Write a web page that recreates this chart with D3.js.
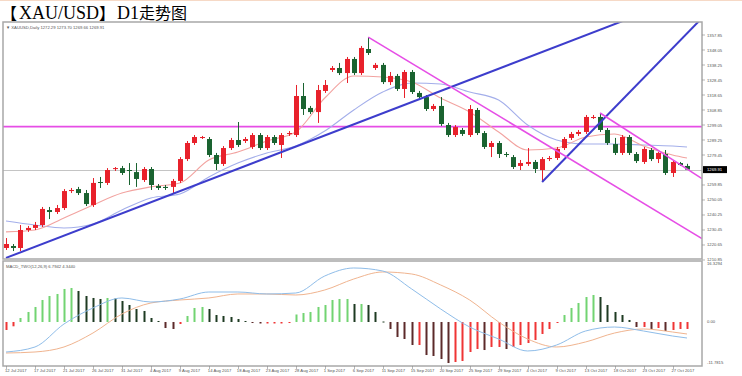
<!DOCTYPE html>
<html>
<head>
<meta charset="utf-8">
<title>XAU/USD D1</title>
<script src="https://cdnjs.cloudflare.com/ajax/libs/d3/7.8.5/d3.min.js"></script>
<style>
    body { margin: 0; background: #fff; }
    svg { display: block; }
    .tiny { font-family: "Liberation Sans", Arial, sans-serif; font-size: 4.2px; fill: #555; }
</style>
</head>
<body>
<div id="chart"></div>
<script>
// daily bars, broker shows sunday bars too
const dates = [
    "2017-07-12", "2017-07-13", "2017-07-14", "2017-07-16", "2017-07-17", "2017-07-18", "2017-07-19", "2017-07-20",
    "2017-07-21", "2017-07-23", "2017-07-24", "2017-07-25", "2017-07-26", "2017-07-27", "2017-07-28", "2017-07-30",
    "2017-07-31", "2017-08-01", "2017-08-02", "2017-08-03", "2017-08-04", "2017-08-06", "2017-08-07", "2017-08-08",
    "2017-08-09", "2017-08-10", "2017-08-11", "2017-08-13", "2017-08-14", "2017-08-15", "2017-08-16", "2017-08-17",
    "2017-08-18", "2017-08-20", "2017-08-21", "2017-08-22", "2017-08-23", "2017-08-24", "2017-08-25", "2017-08-27",
    "2017-08-28", "2017-08-29", "2017-08-30", "2017-08-31", "2017-09-01", "2017-09-03", "2017-09-04", "2017-09-05",
    "2017-09-06", "2017-09-07", "2017-09-08", "2017-09-10", "2017-09-11", "2017-09-12", "2017-09-13", "2017-09-14",
    "2017-09-15", "2017-09-17", "2017-09-18", "2017-09-19", "2017-09-20", "2017-09-21", "2017-09-22", "2017-09-24",
    "2017-09-25", "2017-09-26", "2017-09-27", "2017-09-28", "2017-09-29", "2017-10-01", "2017-10-02", "2017-10-03",
    "2017-10-04", "2017-10-05", "2017-10-06", "2017-10-08", "2017-10-09", "2017-10-10", "2017-10-11", "2017-10-12",
    "2017-10-13", "2017-10-15", "2017-10-16", "2017-10-17", "2017-10-18", "2017-10-19", "2017-10-20", "2017-10-22",
    "2017-10-23", "2017-10-24", "2017-10-25", "2017-10-26", "2017-10-27", "2017-10-29", "2017-10-30"
];

const opens = [
    1218.7, 1220.0, 1218.7, 1230.45, 1231.8, 1233.7, 1243.5, 1242.2, 1244.8, 1255.9, 1257.2, 1254.6, 1246.8, 1261.8, 1261.2, 1270.3,
    1270.9, 1269.65, 1268.3, 1263.1, 1270.3, 1259.2, 1258.6, 1258.6, 1262.5, 1276.8, 1287.3, 1290.6, 1289.9, 1279.45, 1273.6, 1284.0,
    1289.25, 1288.6, 1284.7, 1292.5, 1284.0, 1291.2, 1286.0, 1293.2, 1292.5, 1318.0, 1310.2, 1307.5, 1321.3, 1335.0, 1336.3, 1333.0,
    1342.2, 1333.0, 1348.7, 1336.3, 1338.3, 1327.1, 1331.1, 1322.6, 1333.7, 1320.0, 1317.3, 1309.5, 1311.5, 1299.05, 1292.5, 1295.8,
    1292.5, 1308.85, 1293.8, 1284.7, 1287.3, 1280.1, 1278.1, 1272.3, 1273.6, 1274.9, 1269.65, 1276.8, 1277.5, 1284.0, 1290.6, 1293.2,
    1294.5, 1303.6, 1304.3, 1295.8, 1286.6, 1280.8, 1291.2, 1280.1, 1274.9, 1282.7, 1276.8, 1280.1, 1267.7, 1274.2, 1272.29
];
const highs = [
    1225.2, 1221.3, 1233.7, 1233.1, 1235.7, 1245.5, 1245.5, 1246.8, 1257.2, 1257.9, 1258.6, 1256.6, 1264.4, 1265.1, 1270.9, 1271.6,
    1272.3, 1274.2, 1274.2, 1271.6, 1271.6, 1260.5, 1259.85, 1263.8, 1278.1, 1288.6, 1292.5, 1291.9, 1291.2, 1280.8, 1285.3, 1290.6,
    1301.0, 1291.2, 1293.8, 1293.8, 1292.5, 1292.5, 1293.8, 1295.1, 1325.2, 1326.5, 1311.5, 1325.2, 1328.45, 1337.6, 1339.6, 1343.5,
    1343.5, 1350.7, 1356.5, 1339.6, 1339.6, 1333.7, 1332.4, 1335.0, 1335.0, 1321.3, 1318.65, 1312.8, 1317.3, 1300.4, 1299.05, 1297.1,
    1312.1, 1310.2, 1295.1, 1288.6, 1288.6, 1281.4, 1279.45, 1276.2, 1284.0, 1276.2, 1278.1, 1278.8, 1284.7, 1291.2, 1294.5, 1295.8,
    1305.6, 1305.6, 1306.9, 1297.1, 1290.6, 1292.5, 1292.5, 1281.4, 1284.7, 1284.0, 1281.4, 1282.7, 1276.2, 1274.9, 1273.70
];
const lows = [
    1217.4, 1216.7, 1216.7, 1229.2, 1230.45, 1232.4, 1237.6, 1240.9, 1243.5, 1254.6, 1253.3, 1246.1, 1245.5, 1257.9, 1259.85, 1269.0,
    1266.4, 1259.85, 1258.6, 1261.8, 1256.6, 1256.6, 1256.6, 1254.6, 1261.2, 1275.5, 1286.0, 1289.9, 1278.1, 1269.65, 1272.3, 1282.7,
    1284.7, 1287.3, 1283.4, 1282.7, 1282.7, 1286.0, 1277.5, 1291.9, 1291.2, 1305.6, 1306.2, 1300.4, 1320.0, 1333.7, 1331.7, 1326.5,
    1331.7, 1331.7, 1344.8, 1335.0, 1325.8, 1325.2, 1321.3, 1316.7, 1319.3, 1316.0, 1308.2, 1308.2, 1298.4, 1291.2, 1291.2, 1291.9,
    1291.2, 1292.5, 1283.4, 1278.1, 1277.5, 1278.1, 1270.3, 1269.65, 1272.3, 1267.7, 1261.8, 1275.5, 1276.2, 1282.7, 1289.25, 1291.9,
    1293.2, 1303.0, 1294.5, 1286.0, 1279.45, 1279.45, 1279.45, 1274.2, 1273.6, 1275.5, 1274.2, 1266.4, 1265.1, 1272.3, 1269.66
];
const closes = [
    1221.3, 1218.7, 1230.45, 1231.8, 1233.7, 1244.2, 1242.2, 1244.8, 1255.9, 1256.6, 1254.6, 1247.4, 1261.2, 1261.2, 1269.65, 1270.9,
    1267.7, 1269.0, 1263.8, 1270.3, 1259.85, 1257.9, 1257.9, 1262.5, 1276.8, 1287.3, 1291.2, 1291.2, 1279.45, 1273.6, 1284.0, 1289.25,
    1286.0, 1289.9, 1292.5, 1284.0, 1291.2, 1287.3, 1292.5, 1293.8, 1318.0, 1309.5, 1307.5, 1321.9, 1325.2, 1336.3, 1333.0, 1342.2,
    1333.0, 1349.4, 1346.1, 1338.3, 1327.1, 1331.1, 1322.6, 1333.7, 1320.6, 1317.3, 1309.5, 1311.5, 1299.7, 1292.5, 1297.7, 1293.2,
    1309.5, 1293.8, 1284.7, 1287.3, 1280.1, 1279.45, 1271.6, 1274.2, 1274.9, 1270.3, 1276.8, 1277.5, 1283.4, 1289.9, 1293.2, 1294.5,
    1304.3, 1304.3, 1295.8, 1287.3, 1280.8, 1291.2, 1280.8, 1275.5, 1283.4, 1276.8, 1280.8, 1267.7, 1274.9, 1272.9, 1269.91
];

// moving averages read at every 4th bar (+ last bar)
const sampleIdx = [0, 4, 8, 12, 16, 20, 24, 28, 32, 36, 40, 44, 48, 52, 56, 60, 64, 68, 72, 76, 80, 84, 88, 92, 94];
const maFast = [1229.2, 1230.5, 1238.3, 1246.8, 1254.6, 1258.6, 1261.2, 1276.2, 1281.4, 1288.6, 1294.5, 1316.7, 1331.1,
    1330.4, 1327.2, 1316.7, 1307.6, 1294.5, 1282.7, 1284.0, 1291.2, 1293.2, 1285.3, 1279.5, 1277.5];
const maSlow = [1236.3, 1233.7, 1231.8, 1234.4, 1243.5, 1251.4, 1254.0, 1265.1, 1274.2, 1280.8, 1285.3, 1295.1, 1308.9,
    1320.6, 1326.5, 1325.8, 1320.6, 1315.4, 1299.1, 1289.3, 1286.6, 1286.6, 1286.0, 1285.3, 1284.7];

// MACD panel
const macdHist = [
    -2.14, -1.15, 1.07, 2.68, 4.02, 5.89, 6.96, 7.50, 8.84, 9.10, 8.30, 6.96, 6.43, 6.16, 6.43, 6.30,
    5.62, 4.55, 3.48, 2.95, 1.07, 0.27, -1.61, -1.87, -0.54, 1.61, 3.75, 4.02, 3.48, 1.87, 1.61, 1.34,
    0.80, 0.27, -0.27, -0.40, -0.40, -0.40, -0.40, -0.27, 2.01, 2.41, 2.68, 4.02, 4.55, 5.89, 6.16, 6.16,
    4.82, 4.82, 4.55, 2.68, 0.13, -1.87, -4.02, -4.55, -6.16, -6.16, -8.84, -9.10, -9.91, -10.98, -10.71, -10.44,
    -8.03, -7.23, -7.50, -6.69, -6.69, -7.23, -6.69, -6.16, -5.62, -4.82, -3.21, -1.87, -0.13, 1.87, 3.75, 5.09,
    6.69, 7.23, 6.69, 4.55, 2.68, 1.87, 0.54, -1.34, -1.34, -1.87, -1.61, -2.41, -2.14, -1.87, -1.87
];
const macdLine = [-8.03, -6.69, -0.54, 3.75, 6.43, 5.35, 6.16, 8.03, 8.03, 7.50, 7.76, 12.32, 14.46,
    13.65, 8.84, 3.48, -1.34, -4.55, -7.76, -6.16, -2.41, -1.34, -2.41, -3.75, -4.28];
const signalLine = [-8.30, -8.03, -6.69, -2.95, 2.14, 5.09, 5.89, 6.43, 7.50, 7.50, 7.23, 8.57, 11.51,
    13.39, 12.85, 9.91, 5.89, 0.00, -4.55, -6.69, -5.35, -2.95, -1.87, -2.68, -3.21];

// axis labels
const priceTicks = [1357.85, 1348.05, 1338.25, 1328.45, 1318.65, 1308.85, 1299.05, 1289.25,
    1279.45, 1259.85, 1250.05, 1240.25, 1230.45, 1220.65, 1210.85];
const macdTicks = [16.3294, 0, -11.7815];
const macdTickLabels = ["16.3294", "0.00", "-11.7815"];

// drawn objects: [index1, price1, index2, price2]
const blueRays = [[0, 1212.2, 60, 1321.3], [74, 1261.8, 94, 1358.9]];
const pinkRays = [[50, 1356.5, 90, 1242.2], [82, 1306.9, 94, 1270.3]];
const pinkLevel = 1298.0;

const headerText = "XAUUSD,Daily  1272.29 1273.70 1269.66 1269.91";
const macdHeader = "MACD_TWO(12,26,9) 6.7942 4.3440";

const frame = { left: 3, right: 702, top: 22, mid: 259, macdTop: 261, bottom: 366 };
const colors = {
    up: "#e8212b", down: "#1a6330",
    maFast: "#f2a3a0", maSlow: "#a3aeea",
    ray: "#3d3dcc", pink: "#e64ee6",
    histUp: "#72d472", histUpFall: "#1e3b22", histDn: "#5c2a2a", histDnRise: "#ef3535",
    macd: "#8fbde9", signal: "#f0b48f"
};

const svg = d3.select("#chart")
    .append("svg")
    .attr("width", 742)
    .attr("height", 376);

// page top strip + title
svg.append("rect").attr("x", 0).attr("y", 0).attr("width", 742).attr("height", 1).attr("fill", "#f6d9c6");

const title = svg.append("text").attr("x", 1).attr("y", 19).attr("fill", "#000");
title.append("tspan").attr("font-family", "Noto Sans CJK SC").attr("font-size", 16).text("【");
title.append("tspan").attr("dx", 2).attr("font-family", "Liberation Serif").attr("font-size", 18).text("XAU/USD");
title.append("tspan").attr("font-family", "Noto Sans CJK SC").attr("font-size", 16).text("】");
title.append("tspan").attr("dx", 2).attr("font-family", "Liberation Serif").attr("font-size", 18).text("D1");
title.append("tspan").attr("font-family", "Noto Sans CJK SC").attr("font-size", 16).text("走势图");

const x = d3.scalePoint().domain(dates).range([6, 687]);
const y = d3.scaleLinear().domain([1211.5, 1366.35]).range([frame.mid, frame.top]);
const yM = d3.scaleLinear().domain([-11.78, 16.33]).range([frame.bottom, frame.macdTop]);

const defs = svg.append("defs");
defs.append("clipPath").attr("id", "clip-main")
    .append("rect")
    .attr("x", frame.left).attr("y", frame.top)
    .attr("width", frame.right - frame.left).attr("height", frame.mid - frame.top);
defs.append("clipPath").attr("id", "clip-macd")
    .append("rect")
    .attr("x", frame.left).attr("y", frame.macdTop)
    .attr("width", frame.right - frame.left).attr("height", frame.bottom - frame.macdTop);

const main = svg.append("g").attr("clip-path", "url(#clip-main)");
const macdG = svg.append("g").attr("clip-path", "url(#clip-macd)");

const candles = dates.map((d, i) => ({
    date: d, o: opens[i], h: highs[i], l: lows[i], c: closes[i]
}));
const lastClose = closes[closes.length - 1];

// close price line + level line
main.append("line")
    .attr("x1", frame.left).attr("x2", frame.right)
    .attr("y1", Math.round(y(lastClose)) + 0.5).attr("y2", Math.round(y(lastClose)) + 0.5)
    .attr("stroke", "#c4c4c4").attr("stroke-width", 1);

main.append("line")
    .attr("x1", frame.left).attr("x2", frame.right)
    .attr("y1", y(pinkLevel)).attr("y2", y(pinkLevel))
    .attr("stroke", colors.pink).attr("stroke-width", 1.6);

// moving averages
const maLine = values => d3.line()
    .x((_, k) => x(dates[sampleIdx[k]]))
    .y(v => y(v))
    .curve(d3.curveMonotoneX)(values);

main.append("path").attr("d", maLine(maSlow))
    .attr("fill", "none").attr("stroke", colors.maSlow).attr("stroke-width", 1.1);
main.append("path").attr("d", maLine(maFast))
    .attr("fill", "none").attr("stroke", colors.maFast).attr("stroke-width", 1.1);

// candles
const bars = main.append("g").selectAll("g")
    .data(candles)
    .join("g")
    .attr("transform", d => `translate(${Math.round(x(d.date))}, 0)`);

bars.append("line")
    .attr("x1", 0.5).attr("x2", 0.5)
    .attr("y1", d => y(d.h)).attr("y2", d => y(d.l))
    .attr("stroke", d => d.c >= d.o ? colors.up : colors.down)
    .attr("stroke-width", 1);

bars.append("rect")
    .attr("x", -2)
    .attr("width", 5)
    .attr("y", d => y(Math.max(d.o, d.c)))
    .attr("height", d => Math.max(1, Math.abs(y(d.o) - y(d.c))))
    .attr("fill", d => d.c >= d.o ? colors.up : colors.down);

// trend lines, extended to the right edge
const rayPoints = r => {
    const x1 = x(dates[r[0]]), y1 = y(r[1]);
    const x2 = x(dates[r[2]]), y2 = y(r[3]);
    const slope = (y2 - y1) / (x2 - x1);
    return [x1, y1, frame.right, y1 + slope * (frame.right - x1)];
};

main.selectAll("line.ray-blue")
    .data(blueRays)
    .join("line")
    .attr("class", "ray-blue")
    .attr("x1", d => rayPoints(d)[0]).attr("y1", d => rayPoints(d)[1])
    .attr("x2", d => rayPoints(d)[2]).attr("y2", d => rayPoints(d)[3])
    .attr("stroke", colors.ray).attr("stroke-width", 2);

main.selectAll("line.ray-pink")
    .data(pinkRays)
    .join("line")
    .attr("class", "ray-pink")
    .attr("x1", d => rayPoints(d)[0]).attr("y1", d => rayPoints(d)[1])
    .attr("x2", d => rayPoints(d)[2]).attr("y2", d => rayPoints(d)[3])
    .attr("stroke", colors.pink).attr("stroke-width", 1.6);

// MACD histogram
const histColor = (v, i) => {
    const prev = i > 0 ? macdHist[i - 1] : v;
    if (v >= 0) return v >= prev ? colors.histUp : colors.histUpFall;
    return v < prev ? colors.histDn : colors.histDnRise;
};

macdG.append("g").selectAll("rect")
    .data(macdHist)
    .join("rect")
    .attr("x", (_, i) => Math.round(x(dates[i])) - 0.5)
    .attr("width", 2)
    .attr("y", v => Math.min(yM(v), yM(0)))
    .attr("height", v => Math.max(1, Math.abs(yM(v) - yM(0))))
    .attr("fill", histColor);

const macdPath = values => d3.line()
    .x((_, k) => x(dates[sampleIdx[k]]))
    .y(v => yM(v))
    .curve(d3.curveMonotoneX)(values);

macdG.append("path").attr("d", macdPath(signalLine))
    .attr("fill", "none").attr("stroke", colors.signal).attr("stroke-width", 1);
macdG.append("path").attr("d", macdPath(macdLine))
    .attr("fill", "none").attr("stroke", colors.macd).attr("stroke-width", 1);

// frames
svg.append("rect")
    .attr("x", frame.left).attr("y", frame.top)
    .attr("width", frame.right - frame.left).attr("height", frame.mid - frame.top)
    .attr("fill", "none").attr("stroke", "#a8a8a8").attr("stroke-width", 1.5);
svg.append("rect")
    .attr("x", frame.left).attr("y", frame.macdTop)
    .attr("width", frame.right - frame.left).attr("height", frame.bottom - frame.macdTop)
    .attr("fill", "none").attr("stroke", "#a8a8a8").attr("stroke-width", 1.5);

// header texts
svg.append("text").attr("class", "tiny").attr("x", 6).attr("y", 29).text("▼ " + headerText);
svg.append("text").attr("class", "tiny").attr("x", 6).attr("y", 268).text(macdHeader);

// price axis
const priceAxis = svg.append("g").attr("transform", `translate(${frame.right}, 0)`);
priceAxis.selectAll("line")
    .data(priceTicks)
    .join("line")
    .attr("x1", 0).attr("x2", 3)
    .attr("y1", d => y(d)).attr("y2", d => y(d))
    .attr("stroke", "#888").attr("stroke-width", 0.6);
priceAxis.selectAll("text")
    .data(priceTicks)
    .join("text")
    .attr("class", "tiny")
    .attr("x", 5)
    .attr("y", d => y(d) + 1.5)
    .text(d => d.toFixed(2));

priceAxis.append("rect")
    .attr("x", 1).attr("y", y(lastClose) - 3.5)
    .attr("width", 24).attr("height", 7)
    .attr("fill", "#000");
priceAxis.append("text")
    .attr("class", "tiny")
    .attr("x", 5).attr("y", y(lastClose) + 1.5)
    .style("fill", "#fff")
    .text(lastClose.toFixed(2));

// macd axis
const macdAxis = svg.append("g").attr("transform", `translate(${frame.right}, 0)`);
macdAxis.selectAll("text")
    .data(macdTicks)
    .join("text")
    .attr("class", "tiny")
    .attr("x", 5)
    .attr("y", (d, i) => i === 0 ? yM(d) + 4 : i === 2 ? yM(d) - 2 : yM(d) + 1.5)
    .text((_, i) => macdTickLabels[i]);

// date axis
const fmt = d3.timeFormat("%-d %b %Y");
const parse = d3.timeParse("%Y-%m-%d");
const dateTicks = dates.filter((_, i) => i % 4 === 0);

const dateAxis = svg.append("g");
dateAxis.selectAll("line")
    .data(dateTicks)
    .join("line")
    .attr("x1", d => Math.round(x(d)) + 0.5).attr("x2", d => Math.round(x(d)) + 0.5)
    .attr("y1", frame.bottom).attr("y2", frame.bottom + 3)
    .attr("stroke", "#888").attr("stroke-width", 0.6);
dateAxis.selectAll("text")
    .data(dateTicks)
    .join("text")
    .attr("class", "tiny")
    .attr("x", d => x(d) - 1)
    .attr("y", frame.bottom + 6)
    .text(d => fmt(parse(d)));
</script>
</body>
</html>
